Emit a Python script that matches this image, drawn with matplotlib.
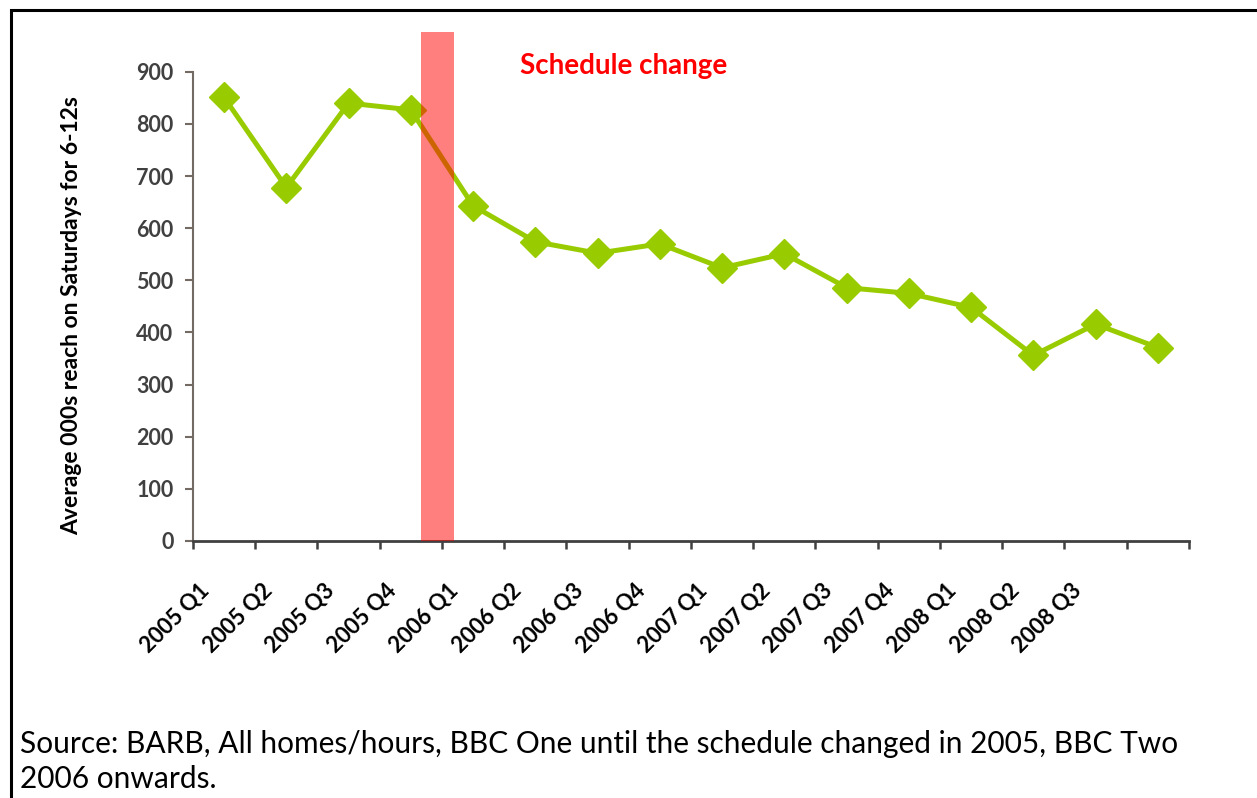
import numpy as np
import matplotlib
matplotlib.use('Agg')
import matplotlib.pyplot as plt
from matplotlib.patches import Rectangle

# Datos.
trimestres = ['2005 Q1', '2005 Q2', '2005 Q3', '2005 Q4',
              '2006 Q1', '2006 Q2', '2006 Q3', '2006 Q4',
              '2007 Q1', '2007 Q2', '2007 Q3', '2007 Q4',
              '2008 Q1', '2008 Q2', '2008 Q3', '']
alcance = [851, 678, 840, 827, 643, 574, 552, 570,
           524, 551, 486, 475, 448, 356, 416, 371]
cambio_inicio = 3.17
cambio_fin = 3.70
y_ticks = list(range(0, 1000, 100))

plt.rcParams['font.family'] = ['Lato', 'DejaVu Sans']

fig = plt.figure(figsize=(12.57, 7.98), dpi=100)
ax = fig.add_axes([0.1535, 0.3221, 0.7924, 0.6382])

x = np.arange(len(alcance))
ax.plot(x, alcance, color='#99cc00', lw=3.6, marker='D', ms=15,
        mec='#99cc00', mfc='#99cc00', zorder=3)

# Franja del cambio de horario.
ax.axvspan(cambio_inicio, cambio_fin, ymin=0, ymax=1, color='#ff0000',
           alpha=0.5, lw=0, zorder=4)

ax.set_xlim(-0.5, len(alcance) - 0.5)
ax.set_ylim(0, 977)

for s in ['top', 'right']:
    ax.spines[s].set_visible(False)
ax.spines['left'].set_bounds(0, 900)
ax.spines['left'].set_color('#736b63')
ax.spines['left'].set_linewidth(1.5)
ax.spines['bottom'].set_color('#404040')
ax.spines['bottom'].set_linewidth(2)

ax.set_yticks(y_ticks)
ax.set_yticklabels([str(v) for v in y_ticks], fontsize=15.5,
                   fontweight='bold', color='#404040')
ax.tick_params(axis='y', direction='out', length=6, width=1.5,
               color='#736b63', pad=8)

# Marcas en los límites de cada trimestre, etiquetas aparte.
ax.set_xticks(np.arange(-0.5, len(alcance), 1), minor=False)
ax.set_xticklabels([])
ax.tick_params(axis='x', direction='out', length=6, width=1.8,
               color='#404040')
ax.set_xticks(x - 0.4, minor=True)
ax.set_xticklabels(trimestres, minor=True, rotation=45, ha='right',
                   va='top', rotation_mode='anchor', fontsize=16,
                   fontweight='bold', color='black')
ax.tick_params(axis='x', which='minor', length=0, pad=28)

ax.set_ylabel('Average 000s reach on Saturdays for 6-12s', fontsize=16.5,
              fontweight='bold', color='black')
ax.yaxis.set_label_coords(-0.111, 0.442)

ax.text(624 / 1257, 1 - 66 / 798, 'Schedule change', transform=fig.transFigure,
        ha='center', va='center', fontsize=20, fontweight='bold',
        color='#ff0000')

fig.text(20 / 1257, 1 - 744 / 798,
         'Source: BARB, All homes/hours, BBC One until the schedule changed '
         'in 2005, BBC Two', fontsize=21.5, va='center', ha='left')
fig.text(20 / 1257, 1 - 779 / 798, '2006 onwards.', fontsize=21.5,
         va='center', ha='left')

# Marco.
fig.patches.append(Rectangle((11 / 1257, -0.1), 1.2, 1.1 - 10 / 798,
                             transform=fig.transFigure, fill=False,
                             edgecolor='black', lw=2.2))

fig.savefig('out.png', dpi=100)
